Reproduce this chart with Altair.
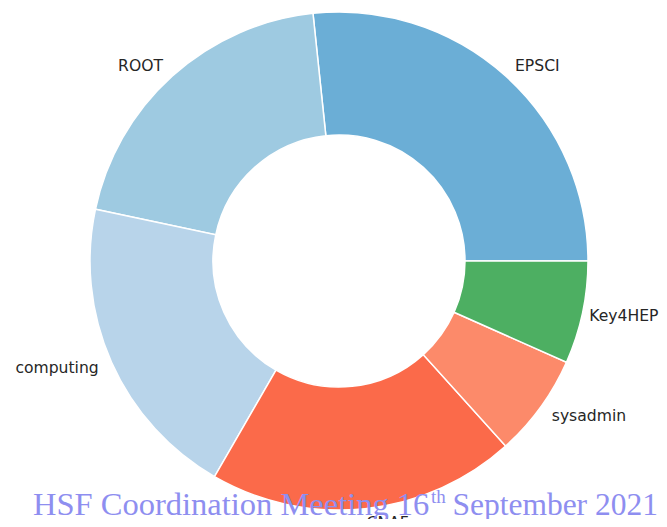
import math
import altair as alt
import pandas as pd

# Slice data (matplotlib order, counter-clockwise from 3 o'clock)
labels = ["EPSCI", "ROOT", "computing", "CNAF", "sysadmin", "Key4HEP"]
counts = [4, 3, 3, 3, 1, 1]
colors = ["#6baed6", "#9ecae1", "#b8d4ea", "#fb6a4a", "#fc8a6a", "#4daf62"]
left_side = ["ROOT", "computing"]
edge_label = ["Key4HEP"]

# Overlay footer text pieces
footer_main = "HSF Coordination Meeting 16"
footer_sup = "th"
footer_tail = "September 2021"

df = pd.DataFrame({"label": labels, "count": counts, "idx": list(range(len(labels)))})

CX, CY = 331, 253
theta_scale = alt.Scale(range=[math.pi / 2, math.pi / 2 + 2 * math.pi])

base = alt.Chart(df).encode(
    theta=alt.Theta("count:Q", stack=True, scale=theta_scale),
    order=alt.Order("idx:Q", sort="descending"),
)

arcs = base.mark_arc(outerRadius=249, innerRadius=126, stroke="white", strokeWidth=1.5).encode(
    color=alt.Color("label:N", scale=alt.Scale(domain=labels, range=colors), legend=None),
    x=alt.value(CX),
    y=alt.value(CY),
)

label_style = dict(radius=263, baseline="middle", fontSize=15.6, font="DejaVu Sans", color="#262626")


def label_layer(members, align, dx=0):
    return base.mark_text(align=align, dx=dx, **label_style).encode(
        text=alt.condition(
            alt.FieldOneOfPredicate(field="label", oneOf=members),
            alt.Text("label:N"),
            alt.value(""),
        ),
        x=alt.value(CX),
        y=alt.value(CY),
    )


right_members = [l for l in labels if l not in left_side and l not in edge_label]
right_labels = label_layer(right_members, "left")
edge_labels = label_layer(edge_label, "left", dx=-7)
left_labels = label_layer(left_side, "right")

footer_color = "#8e8ef0"
foot_df = pd.DataFrame({"a": [footer_main], "b": [footer_sup], "c": [footer_tail]})
f1 = alt.Chart(foot_df).mark_text(
    align="left", baseline="alphabetic", font="Liberation Serif", fontSize=32.5, color=footer_color
).encode(text="a:N", x=alt.value(25), y=alt.value(507))
f2 = alt.Chart(foot_df).mark_text(
    align="left", baseline="alphabetic", font="Liberation Serif", fontSize=19, color=footer_color
).encode(text="b:N", x=alt.value(423), y=alt.value(495))
f3 = alt.Chart(foot_df).mark_text(
    align="right", baseline="alphabetic", font="Liberation Serif", fontSize=31.5, color=footer_color
).encode(text="c:N", x=alt.value(650), y=alt.value(507))

chart = (
    alt.layer(arcs, right_labels, edge_labels, left_labels, f1, f2, f3)
    .properties(width=651, height=511, autosize=alt.AutoSizeParams(type="none"), padding=0)
    .configure_view(stroke=None)
)

chart.save("out.html", embed_options={"renderer": "svg", "actions": False})
